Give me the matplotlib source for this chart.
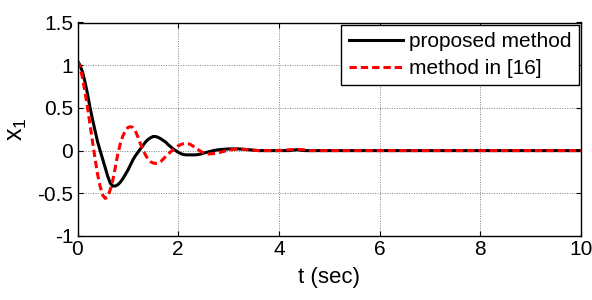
import matplotlib
matplotlib.use("Agg")
import matplotlib.pyplot as plt

plt.rcParams["font.family"] = ["Liberation Sans", "DejaVu Sans"]

# ── data ─────────────────────────────────────────────────
t = [0.00, 0.05, 0.10, 0.15, 0.20, 0.25, 0.30, 0.35, 0.40, 0.45,
     0.50, 0.55, 0.60, 0.65, 0.70, 0.75, 0.80, 0.85, 0.90, 0.95,
     1.00, 1.05, 1.10, 1.15, 1.20, 1.25, 1.30, 1.35, 1.40, 1.45,
     1.50, 1.55, 1.60, 1.65, 1.70, 1.75, 1.80, 1.85, 1.90, 1.95,
     2.00, 2.05, 2.10, 2.15, 2.20, 2.25, 2.30, 2.35, 2.40, 2.45,
     2.50, 2.60, 2.70, 2.80, 2.90, 3.00, 3.10, 3.20, 3.30, 3.40,
     3.50, 3.60, 4.00, 4.20, 4.35, 4.50, 4.60, 5.00, 6.00, 7.00,
     8.00, 9.00, 10.00]

x1_proposed = [1.05, 1.00, 0.92, 0.80, 0.66, 0.50, 0.36, 0.23, 0.10, 0.00,
               -0.10, -0.20, -0.30, -0.38, -0.415, -0.415, -0.40, -0.37, -0.33, -0.28,
               -0.23, -0.17, -0.11, -0.06, -0.02, 0.02, 0.06, 0.10, 0.13, 0.15,
               0.165, 0.165, 0.155, 0.14, 0.12, 0.10, 0.07, 0.045, 0.02, 0.0,
               -0.02, -0.035, -0.045, -0.05, -0.05, -0.05, -0.05, -0.05, -0.045, -0.04,
               -0.03, -0.015, 0.0, 0.01, 0.015, 0.02, 0.02, 0.02, 0.015, 0.01,
               0.005, 0.0, 0.0, 0.0, 0.01, 0.0, 0.0, 0.0, 0.0, 0.0,
               0.0, 0.0, 0.0]

x1_ref16 = [1.05, 0.98, 0.85, 0.68, 0.50, 0.30, 0.10, -0.10, -0.28, -0.42,
            -0.52, -0.56, -0.54, -0.46, -0.35, -0.20, -0.04, 0.08, 0.17, 0.23,
            0.27, 0.28, 0.27, 0.23, 0.16, 0.08, 0.01, -0.05, -0.10, -0.13,
            -0.145, -0.15, -0.145, -0.13, -0.10, -0.07, -0.04, -0.015, 0.01, 0.035,
            0.055, 0.07, 0.08, 0.085, 0.08, 0.07, 0.05, 0.03, 0.01, -0.01,
            -0.025, -0.04, -0.035, -0.025, -0.01, 0.005, 0.015, 0.02, 0.015, 0.01,
            0.005, 0.0, 0.0, 0.01, 0.015, 0.01, 0.0, 0.0, 0.0, 0.0,
            0.0, 0.0, 0.0]

xticks = [0, 2, 4, 6, 8, 10]
yticks = [-1, -0.5, 0, 0.5, 1, 1.5]
ytick_labels = ["-1", "-0.5", "0", "0.5", "1", "1.5"]

# ── figure ───────────────────────────────────────────────
W, H = 592, 300
fig = plt.figure(figsize=(W / 100, H / 100), dpi=100)
ax = fig.add_axes([77.5 / W, 1 - 236 / H, (581 - 77.5) / W, (236 - 22.5) / H])

ax.plot(t, x1_proposed, color="black", linewidth=2.2, label="proposed method")
ax.plot(t, x1_ref16, color="red", linewidth=2.2, linestyle=(0, (2.4, 1.3)),
        label="method in [16]")

ax.set_xlim(0, 10)
ax.set_ylim(-1, 1.5)
ax.set_xticks(xticks)
ax.set_xticklabels([str(v) for v in xticks])
ax.set_yticks(yticks)
ax.set_yticklabels(ytick_labels)
ax.tick_params(direction="in", top=True, right=True, labelsize=15,
               length=3.5, width=0.8, pad=3)
ax.grid(True, color="#808080", linestyle=(0, (1, 1.5)), linewidth=0.7)
for s in ax.spines.values():
    s.set_linewidth(1.0)

ax.set_xlabel("t (sec)", fontsize=16, labelpad=6)
ax.set_ylabel("$\\mathregular{x_1}$", fontsize=18, labelpad=6)

leg = ax.legend(loc="upper right", fontsize=15, handlelength=2.6,
                borderaxespad=0.1, fancybox=False, framealpha=1,
                edgecolor="black", handletextpad=0.3, labelspacing=0.4,
                borderpad=0.35)
leg.get_frame().set_linewidth(1.0)

fig.savefig("out.png", dpi=100)
